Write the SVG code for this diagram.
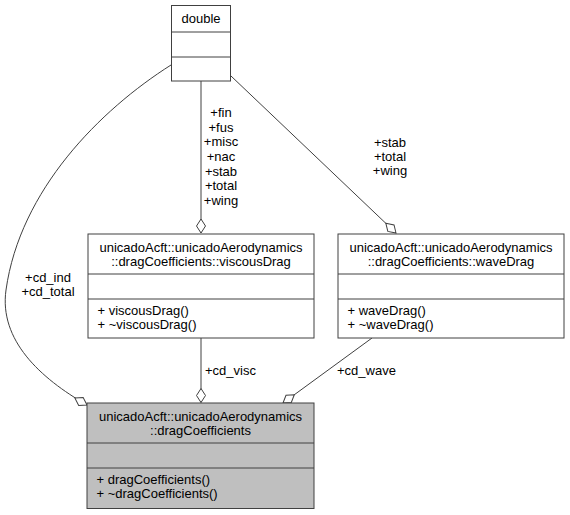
<svg xmlns="http://www.w3.org/2000/svg" width="570" height="515" viewBox="0 0 570 515">
<style>
text{font-family:"Liberation Sans",Arial,sans-serif;font-size:13px;fill:#000}
.box{fill:#fff;stroke:#404040;stroke-width:1}
.main{fill:#bfbfbf}
.div{stroke:#404040;stroke-width:1}
.c{text-anchor:middle}
.edge{fill:none;stroke:#404040;stroke-width:1;marker-end:url(#diamond)}
</style>
<defs>
<marker id="diamond" viewBox="-1 -6 16 12" refX="14" refY="0" markerWidth="16" markerHeight="12" markerUnits="userSpaceOnUse" orient="auto">
<path d="M0,0 L7,-4.5 L14,0 L7,4.5 Z" fill="#fff" stroke="#404040" stroke-width="1"/>
</marker>
</defs>
<rect width="570" height="515" fill="#fff"/>
<g id="connectors">
<path class="edge" d="M171,65 C100,110 20,190 6,290 C-1,340 40,378 87,405"/>
<path class="edge" d="M201,81 L201,233"/>
<path class="edge" d="M231,76 L396,233"/>
<path class="edge" d="M201,338 L201,402.5"/>
<path class="edge" d="M372,338 L283,403"/>
<text class="c" x="48" y="282">+cd_ind</text>
<text class="c" x="48" y="296">+cd_total</text>
<text class="c" x="221" y="117">+fin</text>
<text class="c" x="221" y="131.7">+fus</text>
<text class="c" x="221" y="146.3">+misc</text>
<text class="c" x="221" y="161">+nac</text>
<text class="c" x="221" y="175.7">+stab</text>
<text class="c" x="221" y="190.3">+total</text>
<text class="c" x="221" y="205">+wing</text>
<text class="c" x="390" y="147">+stab</text>
<text class="c" x="390" y="161">+total</text>
<text class="c" x="390" y="175">+wing</text>
<text x="205" y="374.5">+cd_visc</text>
<text x="337" y="375">+cd_wave</text>
</g>
<g id="double">
<rect class="box" x="171.5" y="5.5" width="59" height="75.5"/>
<line class="div" x1="171.5" y1="32" x2="230.5" y2="32"/>
<line class="div" x1="171.5" y1="57" x2="230.5" y2="57"/>
<text class="c" x="201" y="22.5">double</text>
</g>
<g id="viscousDrag">
<rect class="box" x="88" y="234" width="226" height="104"/>
<line class="div" x1="88" y1="274" x2="314" y2="274"/>
<line class="div" x1="88" y1="299" x2="314" y2="299"/>
<text class="c" x="201" y="251.5">unicadoAcft::unicadoAerodynamics</text>
<text class="c" x="201" y="265.5">::dragCoefficients::viscousDrag</text>
<text x="97.5" y="314.5">+ viscousDrag()</text>
<text x="97.5" y="328.5">+ ~viscousDrag()</text>
</g>
<g id="waveDrag">
<rect class="box" x="338" y="234" width="226" height="104"/>
<line class="div" x1="338" y1="274" x2="564" y2="274"/>
<line class="div" x1="338" y1="299" x2="564" y2="299"/>
<text class="c" x="451" y="251.5">unicadoAcft::unicadoAerodynamics</text>
<text class="c" x="451" y="265.5">::dragCoefficients::waveDrag</text>
<text x="347.5" y="314.5">+ waveDrag()</text>
<text x="347.5" y="328.5">+ ~waveDrag()</text>
</g>
<g id="dragCoefficients">
<rect class="box main" x="87" y="403" width="227" height="105.5"/>
<line class="div" x1="87" y1="443" x2="314" y2="443"/>
<line class="div" x1="87" y1="468" x2="314" y2="468"/>
<text class="c" x="200.5" y="420.5">unicadoAcft::unicadoAerodynamics</text>
<text class="c" x="200.5" y="434.5">::dragCoefficients</text>
<text x="96.5" y="483.5">+ dragCoefficients()</text>
<text x="96.5" y="497.5">+ ~dragCoefficients()</text>
</g>
</svg>
